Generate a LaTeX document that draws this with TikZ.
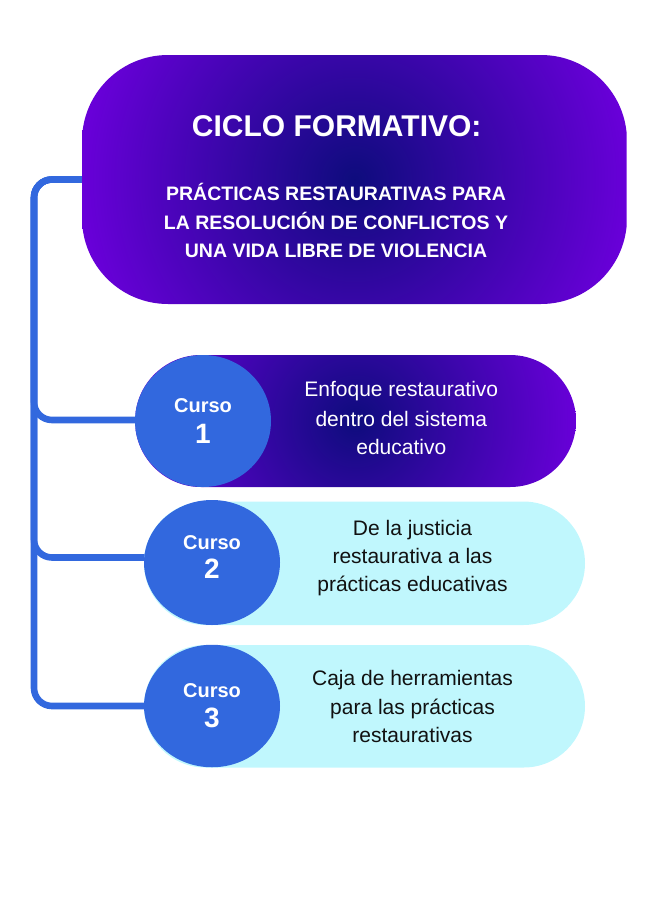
\documentclass[tikz,border=0pt]{standalone}
\usepackage{fontspec}
\setmainfont{Liberation Sans}
\usetikzlibrary{shapes.geometric,backgrounds}
\definecolor{lineblue}{RGB}{50,104,222}
\definecolor{cyanfill}{RGB}{192,247,253}
\definecolor{gnavy}{RGB}{14,12,125}
\definecolor{gpurple}{RGB}{104,0,216}
\definecolor{darktext}{RGB}{17,17,17}
\pgfdeclareradialshading{purpglow}{\pgfpoint{0bp}{0bp}}{color(0bp)=(gnavy); color(25bp)=(gpurple); color(50bp)=(gpurple)}
\begin{document}
\begin{tikzpicture}[x=1pt,y=-1pt,
  conn/.style={draw=lineblue, line width=6.6pt, rounded corners=18pt},
  glowbox/.style={rectangle, inner sep=0pt, path picture={\shade[shading=purpglow] ([shift={(-#1,-#1)}]path picture bounding box.center) rectangle ([shift={(#1,#1)}]path picture bounding box.center);}},
  pill/.style={rectangle, inner sep=0pt, minimum width=441pt},
  course/.style={ellipse, fill=lineblue, inner sep=0pt, minimum width=136pt},
  titlefont/.style={font=\fontsize{30}{36}\selectfont\bfseries, text=white, anchor=base, inner sep=0pt},
  subfont/.style={font=\fontsize{19.5}{24}\selectfont\bfseries, text=white, anchor=base, inner sep=0pt},
  cursofont/.style={font=\fontsize{20}{24}\selectfont\bfseries, text=white, anchor=base, inner sep=0pt},
  numfont/.style={font=\fontsize{28}{32}\selectfont\bfseries, text=white, anchor=base, inner sep=0pt},
  bodylight/.style={font=\fontsize{21}{26}\selectfont, text=white, anchor=base, inner sep=0pt},
  bodydark/.style={font=\fontsize{21}{26}\selectfont, text=darktext, anchor=base, inner sep=0pt}
]
\useasboundingbox (0,0) rectangle (650,900);

% title box
\node[glowbox=272, minimum width=545pt, minimum height=249pt, rounded corners=86pt] (title) at (354.5,179.5) {};
\node[titlefont] (ttl) at (336.7,136.7) {CICLO FORMATIVO:};
\node[subfont] (sub1) at (336,200) {PRÁCTICAS RESTAURATIVAS PARA};
\node[subfont] (sub2) at (336,229) {LA RESOLUCIÓN DE CONFLICTOS Y};
\node[subfont] (sub3) at (336,257.3) {UNA VIDA LIBRE DE VIOLENCIA};

% pills
\node[pill, glowbox=220, minimum height=132pt, rounded corners=66pt] (p1) at (355.5,421) {};
\node[pill, fill=cyanfill, minimum height=123.5pt, rounded corners=61.75pt] (p2) at (364.5,563.25) {};
\node[pill, fill=cyanfill, minimum height=122.5pt, rounded corners=61.25pt] (p3) at (364.5,706.25) {};

% circles
\node[course, minimum height=132pt] (c1) at (203,421) {};
\node[course, minimum height=125pt] (c2) at (212,562.5) {};
\node[course, minimum height=122.5pt] (c3) at (212,706) {};

\node[cursofont] (k1) at (203,412.7) {Curso};
\node[numfont] (n1) at (203,443) {1};
\node[cursofont] (k2) at (212,549.3) {Curso};
\node[numfont] (n2) at (212,578.3) {2};
\node[cursofont] (k3) at (212,697.3) {Curso};
\node[numfont] (n3) at (212,727.3) {3};

% course texts
\node[bodylight] (a1) at (401.3,396.7) {Enfoque restaurativo};
\node[bodylight] (a2) at (401.3,426) {dentro del sistema};
\node[bodylight] (a3) at (401.3,454.3) {educativo};
\node[bodydark] (b1t) at (412.5,535) {De la justicia};
\node[bodydark] (b2t) at (412.5,563.3) {restaurativa a las};
\node[bodydark] (b3t) at (412.5,591) {prácticas educativas};
\node[bodydark] (d1) at (412.5,685) {Caja de herramientas};
\node[bodydark] (d2) at (412.5,714) {para las prácticas};
\node[bodydark] (d3) at (412.5,742) {restaurativas};

% connectors
\coordinate (corner) at (34,179.5);
\coordinate (b1) at (203,420);
\coordinate (b2) at (212,557.5);
\coordinate (b3) at (212,706);
\begin{scope}[on background layer]
\draw[conn] (title.west) -- (corner) -- (corner |- b1) -- (b1);
\draw[conn] (title.west) -- (corner) -- (corner |- b2) -- (b2);
\draw[conn] (title.west) -- (corner) -- (corner |- b3) -- (b3);
\end{scope}
\end{tikzpicture}
\end{document}
